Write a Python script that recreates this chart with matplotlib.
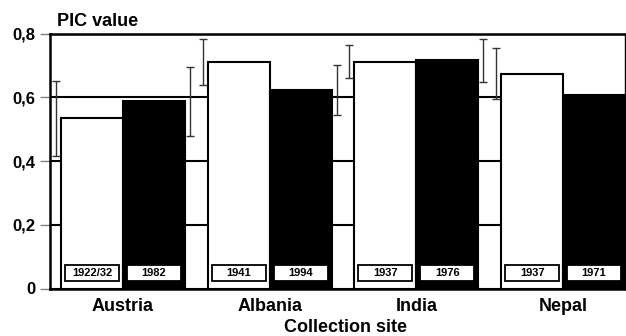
import matplotlib.pyplot as plt
from matplotlib.patches import Rectangle
import numpy as np

plt.rcParams['font.family'] = ['Liberation Sans', 'DejaVu Sans']
plt.rcParams['font.weight'] = 'bold'

sites = ["Austria", "Albania", "India", "Nepal"]
old_years = ["1922/32", "1941", "1937", "1937"]
new_years = ["1982", "1994", "1976", "1971"]
old_pic = [0.534, 0.711, 0.711, 0.674]
new_pic = [0.588, 0.622, 0.716, 0.606]
old_err = [0.117, 0.072, 0.052, 0.080]
new_err = [0.108, 0.079, 0.067, 0.075]

width = 0.422
err_off = 0.456
box_w = 0.367

fig = plt.figure(figsize=(6.26, 3.36), dpi=100)
ax = fig.add_axes([50 / 626, 1 - 288.5 / 336, 575 / 626, 255 / 336])

x = np.arange(len(sites))
ax.bar(x - width / 2, old_pic, width, color="white", edgecolor="black", linewidth=1.5, zorder=2)
ax.bar(x + width / 2, new_pic, width, color="black", edgecolor="black", linewidth=1.5, zorder=2)

# error bars sit in the gaps beside each bar
ax.errorbar(x - err_off, old_pic, yerr=old_err, fmt="none", ecolor="#333333",
            elinewidth=1, capsize=3, capthick=1, zorder=3)
ax.errorbar(x + err_off, new_pic, yerr=new_err, fmt="none", ecolor="#333333",
            elinewidth=1, capsize=3, capthick=1, zorder=3)

# collection year boxes near the bottom of every bar
for xc, year in zip(list(x - width / 2) + list(x + width / 2), old_years + new_years):
    ax.add_patch(Rectangle((xc - box_w / 2, 0.025), box_w, 0.05, facecolor="white",
                           edgecolor="black", linewidth=1.3, zorder=4))
    ax.text(xc, 0.05, year, ha="center", va="center", fontsize=8, fontweight="bold", zorder=5)

ax.set_xlim(-0.497, 3 + width)
ax.set_ylim(0, 0.8)
ax.set_yticks([0, 0.2, 0.4, 0.6, 0.8])
ax.set_yticklabels(["0", "0,2", "0,4", "0,6", "0,8"], fontsize=12, fontweight="bold")
ax.tick_params(axis="y", length=7, width=1, color="#808080", pad=3.5)
ax.set_xticks(x)
ax.set_xticklabels(sites, fontsize=13, fontweight="bold")
ax.tick_params(axis="x", length=0, pad=6.5)

ax.yaxis.grid(True, color="black", linewidth=1.5)
ax.set_axisbelow(True)
for side in ["left", "top", "bottom"]:
    ax.spines[side].set_linewidth(1.8)
ax.spines["right"].set_linewidth(1)

fig.text(57 / 626, 1 - 21 / 336, "PIC value", fontsize=13, fontweight="bold", va="center")
fig.text(345 / 626, 1 - 328 / 336, "Collection site", fontsize=13, fontweight="bold",
         ha="center", va="center")

fig.savefig("out.png", dpi=100)
